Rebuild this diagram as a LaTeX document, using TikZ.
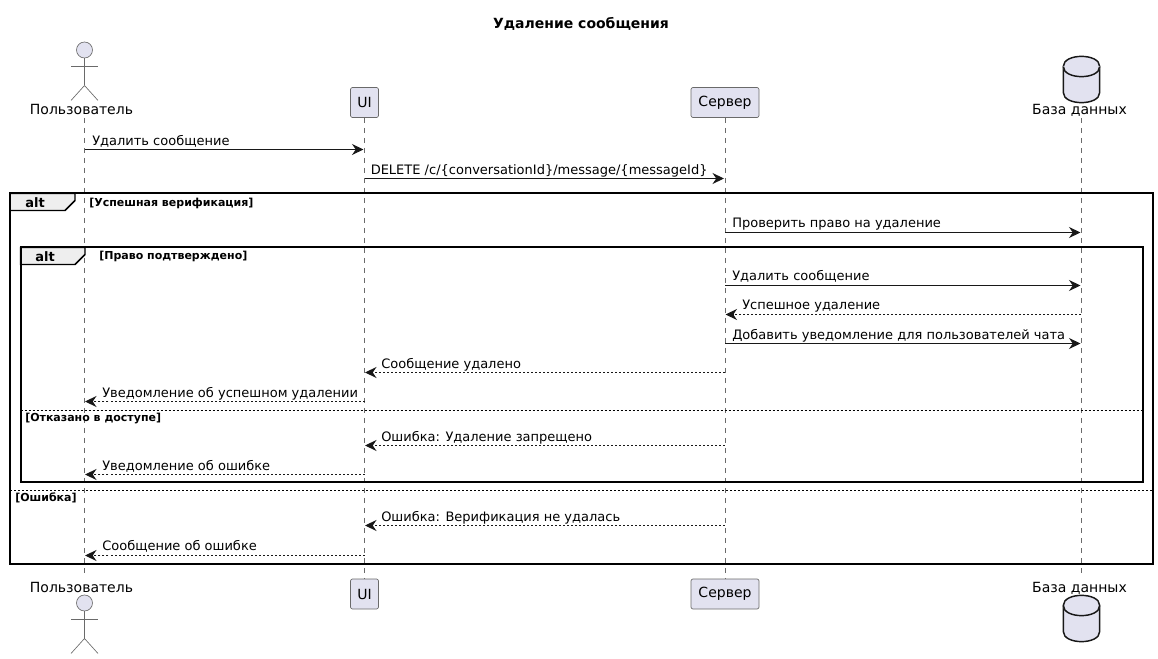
\documentclass[tikz,border=0pt]{standalone}
\usepackage{fontspec}
\setmainfont{DejaVu Sans}
\usetikzlibrary{arrows.meta}
\definecolor{partfill}{HTML}{E2E2F0}
\definecolor{partline}{HTML}{181818}
\definecolor{thinline}{HTML}{6A6A6A}
\definecolor{tabfill}{HTML}{EEEEEE}
\tikzstyle{arrow}    = [line width=0.75pt,-{Stealth[length=8.6pt,width=8.2pt,inset=2.8pt]},color=partline]
\tikzstyle{reply}    = [arrow,dash pattern=on 1.5pt off 1.5pt]
\tikzstyle{lifeline} = [line width=0.4pt,color=thinline,dash pattern=on 3.75pt off 3.75pt]
\tikzstyle{part}     = [draw=thinline, fill=partfill, line width=0.5pt, rounded corners=1.5pt, inner sep=0pt, minimum height=22.5pt, font=\fontsize{10.5}{12}\selectfont]
\tikzstyle{partname} = [inner sep=0pt, anchor=base, font=\fontsize{10.5}{12}\selectfont]
\tikzstyle{limb}     = [line width=0.5pt, draw=thinline]
\tikzstyle{head}     = [circle, draw=thinline, fill=partfill, line width=0.5pt, minimum size=12pt, inner sep=0pt]
\tikzstyle{dbase}    = [draw=partline, fill=partfill, line width=1.1pt]
\tikzstyle{msgtext}  = [inner sep=0pt, anchor=base west, font=\fontsize{9.75}{12}\selectfont]
\tikzstyle{guard}    = [inner sep=0pt, anchor=base west, font=\fontsize{8.25}{10}\selectfont\bfseries]
\tikzstyle{frame}    = [draw=black, line width=1.5pt]
\tikzstyle{tab}      = [draw=black, fill=tabfill, line width=1.1pt]
\tikzstyle{divider}  = [draw=black, line width=0.75pt, dash pattern=on 1.5pt off 1.5pt]
\begin{document}
\begin{tikzpicture}[x=0.75pt,y=-0.75pt]
\useasboundingbox (0,0) rectangle (1158,659);

\node[inner sep=0pt, font=\fontsize{10.5}{13}\selectfont\bfseries] (Title) at (581,24) {Удаление сообщения};

% participants, top
\node[head] (Head1) at (84.5,50) {};
\coordinate (Neck1) at (84.5,85.5);
\coordinate (Arm1a) at (71,66);
\coordinate (Arm1b) at (98,66);
\coordinate (Leg1a) at (71,100.5);
\coordinate (Leg1b) at (98,100.5);
\draw[limb] (Head1) -- (Neck1);
\draw[limb] (Arm1a) -- (Arm1b);
\draw[limb] (Leg1a) -- (Neck1) -- (Leg1b);
\node[partname] (User1) at (81.5,115) {Пользователь};
\node[part,minimum width=21pt] (UI1) at (364.5,102.5) {UI};
\node[part,minimum width=51pt] (Server1) at (725,102.5) {Сервер};
\draw[dbase] (1063.3,66.5) .. controls (1063.3,53) and (1099.7,53) .. (1099.7,66.5)
  -- (1099.7,92.5) .. controls (1099.7,106) and (1063.3,106) .. (1063.3,92.5) -- cycle;
\draw[dbase] (1063.3,66.5) .. controls (1063.3,80) and (1099.7,80) .. (1099.7,66.5);
\node[partname] (Base1) at (1079.5,115) {База данных};

% participants, bottom
\node[head] (Head2) at (84.5,603) {};
\coordinate (Neck2) at (84.5,638.5);
\coordinate (Arm2a) at (71,619);
\coordinate (Arm2b) at (98,619);
\coordinate (Leg2a) at (71,653.5);
\coordinate (Leg2b) at (98,653.5);
\draw[limb] (Head2) -- (Neck2);
\draw[limb] (Arm2a) -- (Arm2b);
\draw[limb] (Leg2a) -- (Neck2) -- (Leg2b);
\node[partname] (User2) at (81.5,592) {Пользователь};
\node[part,minimum width=21pt] (UI2) at (364.5,594) {UI};
\node[part,minimum width=51pt] (Server2) at (725,594) {Сервер};
\draw[dbase] (1063.3,605.5) .. controls (1063.3,592) and (1099.7,592) .. (1099.7,605.5)
  -- (1099.7,631.5) .. controls (1099.7,645) and (1063.3,645) .. (1063.3,631.5) -- cycle;
\draw[dbase] (1063.3,605.5) .. controls (1063.3,619) and (1099.7,619) .. (1099.7,605.5);
\node[partname] (Base2) at (1079.5,592) {База данных};

% lifelines
\coordinate (U1) at (84.5,118);
\coordinate (U2) at (84.5,578);
\coordinate (D1) at (1081,118);
\coordinate (D2) at (1081,578);
\draw[lifeline] (U1) -- (U2);
\draw[lifeline] (UI1) -- (UI2);
\draw[lifeline] (Server1) -- (Server2);
\draw[lifeline] (D1) -- (D2);

% outer alt
\coordinate (F1a) at (10,193.5);
\coordinate (F1b) at (1153,563.5);
\coordinate (T1a) at (75,193.5);
\coordinate (T1b) at (75,200.5);
\coordinate (T1c) at (65,210.5);
\coordinate (T1d) at (10,210.5);
\draw[tab] (F1a) -- (T1a) -- (T1b) -- (T1c) -- (T1d) -- cycle;
\draw[frame] (F1a) rectangle (F1b);
\node[inner sep=0pt, font=\fontsize{9.75}{12}\selectfont\bfseries] (Alt1) at (35,202.5) {alt};
\node[guard] (Guard1) at (89,207) {[Успешная верификация]};

% inner alt
\coordinate (F2a) at (20.5,247.5);
\coordinate (F2b) at (1142.5,482.5);
\coordinate (T2a) at (85,247.5);
\coordinate (T2b) at (85,254.5);
\coordinate (T2c) at (75,264.5);
\coordinate (T2d) at (20.5,264.5);
\draw[tab] (F2a) -- (T2a) -- (T2b) -- (T2c) -- (T2d) -- cycle;
\draw[frame] (F2a) rectangle (F2b);
\node[inner sep=0pt, font=\fontsize{9.75}{12}\selectfont\bfseries] (Alt2) at (45,256.5) {alt};
\node[guard] (Guard2) at (99,260) {[Право подтверждено]};

% else branches
\coordinate (E1a) at (20.5,410.5);
\coordinate (E1b) at (1142.5,410.5);
\coordinate (E2a) at (10,490.5);
\coordinate (E2b) at (1153,490.5);
\draw[divider] (E1a) -- (E1b);
\draw[divider] (E2a) -- (E2b);
\node[guard] (Guard3) at (25,421.5) {[Отказано в доступе]};
\node[guard] (Guard4) at (15,501.5) {[Ошибка]};

% messages
\coordinate (M1a) at (84.5,149.5);
\coordinate (M1b) at (363.5,149.5);
\draw[arrow] (M1a) -- (M1b);
\node[msgtext] (Text1) at (92,146) {Удалить сообщение};
\coordinate (M2a) at (364.5,178.5);
\coordinate (M2b) at (724,178.5);
\draw[arrow] (M2a) -- (M2b);
\node[msgtext] (Text2) at (370.5,175) {DELETE /c/\{conversationId\}/message/\{messageId\}};
\coordinate (M3a) at (725,232.5);
\coordinate (M3b) at (1080.5,232.5);
\draw[arrow] (M3a) -- (M3b);
\node[msgtext] (Text3) at (732,228) {Проверить право на удаление};
\coordinate (M4a) at (725,285.5);
\coordinate (M4b) at (1080.5,285.5);
\draw[arrow] (M4a) -- (M4b);
\node[msgtext] (Text4) at (732,281) {Удалить сообщение};
\coordinate (M5a) at (1081,314.5);
\coordinate (M5b) at (725.5,314.5);
\draw[reply] (M5a) -- (M5b);
\node[msgtext] (Text5) at (742,310) {Успешное удаление};
\coordinate (M6a) at (725,343.5);
\coordinate (M6b) at (1080.5,343.5);
\draw[arrow] (M6a) -- (M6b);
\node[msgtext] (Text6) at (732,340) {Добавить уведомление для пользователей чата};
\coordinate (M7a) at (724.5,372.5);
\coordinate (M7b) at (365,372.5);
\draw[reply] (M7a) -- (M7b);
\node[msgtext] (Text7) at (381,369) {Сообщение удалено};
\coordinate (M8a) at (364.5,401.5);
\coordinate (M8b) at (85,401.5);
\draw[reply] (M8a) -- (M8b);
\node[msgtext] (Text8) at (102,398) {Уведомление об успешном удалении};
\coordinate (M9a) at (724.5,445.5);
\coordinate (M9b) at (365,445.5);
\draw[reply] (M9a) -- (M9b);
\node[msgtext] (Text9) at (381,442) {Ошибка: Удаление запрещено};
\coordinate (M10a) at (364.5,474.5);
\coordinate (M10b) at (85,474.5);
\draw[reply] (M10a) -- (M10b);
\node[msgtext] (Text10) at (102,471) {Уведомление об ошибке};
\coordinate (M11a) at (724.5,525.5);
\coordinate (M11b) at (365,525.5);
\draw[reply] (M11a) -- (M11b);
\node[msgtext] (Text11) at (381,522) {Ошибка: Верификация не удалась};
\coordinate (M12a) at (364.5,555.5);
\coordinate (M12b) at (85,555.5);
\draw[reply] (M12a) -- (M12b);
\node[msgtext] (Text12) at (102,551) {Сообщение об ошибке};

\end{tikzpicture}
\end{document}
